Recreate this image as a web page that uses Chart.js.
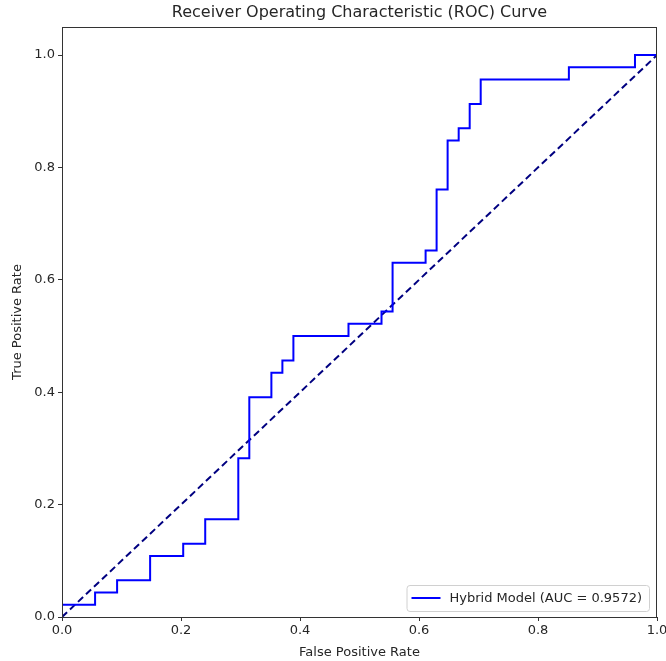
<!DOCTYPE html>
<html>
<head>
<meta charset="utf-8">
<script src="https://cdn.jsdelivr.net/npm/chart.js@4.4.0/dist/chart.umd.min.js"></script>
<style>
  body { margin: 0; background: #fff; }
  canvas { display: block; }
</style>
</head>
<body>
<canvas id="roc-chart" width="666" height="661"></canvas>
<script>
// ROC points (corners of the step curve)
var fpr = [0, 0, 0.0556, 0.0556, 0.0926, 0.0926, 0.1481, 0.1481, 0.2037, 0.2037,
           0.2407, 0.2407, 0.2963, 0.2963, 0.3148, 0.3148, 0.3519, 0.3519, 0.3704, 0.3704,
           0.3889, 0.3889, 0.4815, 0.4815, 0.537, 0.537, 0.5556, 0.5556, 0.6111, 0.6111,
           0.6296, 0.6296, 0.6481, 0.6481, 0.6667, 0.6667, 0.6852, 0.6852, 0.7037, 0.7037,
           0.8519, 0.8519, 0.963, 0.963, 1.0];
var tpr = [0, 0.0217, 0.0217, 0.0435, 0.0435, 0.0652, 0.0652, 0.1087, 0.1087, 0.1304,
           0.1304, 0.1739, 0.1739, 0.2826, 0.2826, 0.3913, 0.3913, 0.4348, 0.4348, 0.4565,
           0.4565, 0.5, 0.5, 0.5217, 0.5217, 0.5435, 0.5435, 0.6304, 0.6304, 0.6522,
           0.6522, 0.7609, 0.7609, 0.8478, 0.8478, 0.8696, 0.8696, 0.913, 0.913, 0.9565,
           0.9565, 0.9783, 0.9783, 1.0, 1.0];
var diagX = [0, 1];
var diagY = [0, 1];
var xTicks = [0, 0.2, 0.4, 0.6, 0.8, 1.0];
var yTicks = [0, 0.2, 0.4, 0.6, 0.8, 1.0];
var modelLabel = 'Hybrid Model (AUC = 0.9572)';
var chartTitle = 'Receiver Operating Characteristic (ROC) Curve';

var FONT = "'DejaVu Sans', sans-serif";
var TEXT = '#262626';

function toPoints(xs, ys) {
    return xs.map(function (x, i) { return { x: x, y: ys[i] }; });
}

var extras = {
    id: 'extras',
    afterDraw: function (chart) {
        var ctx = chart.ctx;
        var a = chart.chartArea;
        ctx.save();
        // frame
        ctx.strokeStyle = '#333';
        ctx.lineWidth = 1;
        ctx.strokeRect(a.left + 0.5, a.top + 0.5, a.right - a.left - 1, a.bottom - a.top);
        // title
        ctx.fillStyle = TEXT;
        ctx.font = '16px ' + FONT;
        ctx.textAlign = 'center';
        ctx.textBaseline = 'middle';
        ctx.fillText(chartTitle, (a.left + a.right) / 2, 13);
        // legend in lower right
        ctx.font = '13px ' + FONT;
        var tw = ctx.measureText(modelLabel).width;
        var bw = tw + 50, bh = 26;
        var bx = a.right - 8 - bw, by = a.bottom - 6 - bh;
        ctx.fillStyle = 'rgba(255,255,255,0.8)';
        ctx.strokeStyle = '#d0d0d0';
        ctx.beginPath();
        ctx.roundRect(bx + 0.5, by + 0.5, bw, bh, 3);
        ctx.fill();
        ctx.stroke();
        ctx.strokeStyle = '#0000ff';
        ctx.lineWidth = 2;
        ctx.beginPath();
        ctx.moveTo(bx + 5, by + bh / 2);
        ctx.lineTo(bx + 34, by + bh / 2);
        ctx.stroke();
        ctx.fillStyle = TEXT;
        ctx.textAlign = 'left';
        ctx.fillText(modelLabel, bx + 43, by + bh / 2 + 1);
        ctx.restore();
    }
};

var ctx = document.getElementById('roc-chart').getContext('2d');
var myChart = new Chart(ctx, {
    type: 'scatter',
    data: {
        datasets: [{
            label: modelLabel,
            data: toPoints(fpr, tpr),
            showLine: true,
            borderColor: '#0000ff',
            backgroundColor: '#0000ff',
            borderWidth: 2,
            pointRadius: 0,
            tension: 0
        }, {
            label: 'chance',
            data: toPoints(diagX, diagY),
            showLine: true,
            borderColor: '#000080',
            borderWidth: 2,
            borderDash: [7, 4],
            pointRadius: 0
        }]
    },
    options: {
        responsive: false,
        animation: false,
        layout: { padding: { top: 27, right: 9, left: 0, bottom: 0 } },
        plugins: {
            legend: { display: false },
            title: { display: false },
            tooltip: { enabled: false }
        },
        scales: {
            x: {
                type: 'linear',
                min: 0,
                max: 1,
                afterBuildTicks: function (s) { s.ticks = xTicks.map(function (v) { return { value: v }; }); },
                afterFit: function (s) { s.height = 44; s.paddingLeft = 0; s.paddingRight = 0; },
                ticks: {
                    color: TEXT,
                    font: { family: FONT, size: 13 },
                    padding: 2,
                    maxRotation: 0,
                    callback: function (v) { return Number(v).toFixed(1); }
                },
                grid: { display: true, drawOnChartArea: false, drawTicks: true, tickLength: 4, color: '#333' },
                border: { display: true, color: '#333' },
                title: {
                    display: true,
                    text: 'False Positive Rate',
                    color: TEXT,
                    font: { family: FONT, size: 13 },
                    padding: { top: 0, bottom: 1 }
                }
            },
            y: {
                type: 'linear',
                min: 0,
                max: 1.05,
                afterBuildTicks: function (s) { s.ticks = yTicks.map(function (v) { return { value: v }; }); },
                afterFit: function (s) { s.width = 62; s.paddingTop = 0; s.paddingBottom = 0; },
                ticks: {
                    color: TEXT,
                    font: { family: FONT, size: 13 },
                    padding: 3,
                    callback: function (v) { return Number(v).toFixed(1); }
                },
                grid: { display: true, drawOnChartArea: false, drawTicks: true, tickLength: 4, color: '#333' },
                border: { display: true, color: '#333' },
                title: {
                    display: true,
                    text: 'True Positive Rate',
                    color: TEXT,
                    font: { family: FONT, size: 13 },
                    padding: { top: 10, bottom: 0 }
                }
            }
        }
    },
    plugins: [extras]
});
</script>
</body>
</html>
